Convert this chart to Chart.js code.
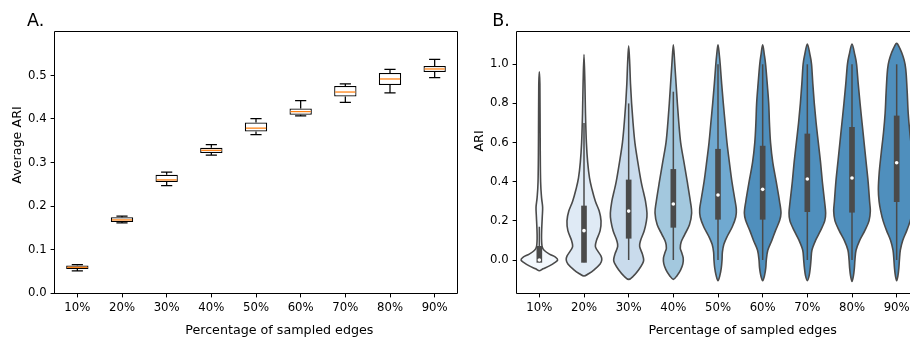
<!DOCTYPE html>
<html><head><meta charset="utf-8">
<script src="https://cdn.jsdelivr.net/npm/chart.js@4/dist/chart.umd.min.js"></script>
<style>
html,body{margin:0;padding:0;background:#fff;overflow:hidden;width:910px;height:341px;}
#wrap{position:relative;width:910px;height:341px;overflow:hidden;background:#fff;}
#a{position:absolute;left:0;top:0;width:460px;height:341px;}
#b{position:absolute;left:460px;top:0;width:470px;height:341px;}
</style></head><body>
<div id="wrap"><canvas id="a" width="460" height="341"></canvas><canvas id="b" width="470" height="341"></canvas></div>
<script>
// ---------- shared ----------
const categories = ['10%','20%','30%','40%','50%','60%','70%','80%','90%'];

// ---------- Panel A: Average ARI (box plots) ----------
const boxLowA  = [0.051, 0.161, 0.247, 0.317, 0.364, 0.407, 0.438, 0.460, 0.495];
const boxQ1A   = [0.055, 0.163, 0.255, 0.322, 0.371, 0.410, 0.452, 0.478, 0.508];
const boxMedA  = [0.059, 0.168, 0.260, 0.328, 0.379, 0.417, 0.462, 0.492, 0.515];
const boxQ3A   = [0.063, 0.174, 0.272, 0.334, 0.392, 0.424, 0.476, 0.506, 0.522];
const boxHighA = [0.065, 0.177, 0.278, 0.341, 0.401, 0.442, 0.481, 0.514, 0.537];
const yTicksA = [0, 0.1, 0.2, 0.3, 0.4, 0.5];
const yTickLabelsA = ['0.0','0.1','0.2','0.3','0.4','0.5'];

// ---------- Panel B: ARI (violin plots) ----------
const boxLowB  = [-0.012, -0.012, 0.0, 0.0, 0.0, 0.0, 0.0, 0.0, 0.0];
const boxQ1B   = [-0.012, -0.012, 0.111, 0.167, 0.208, 0.208, 0.247, 0.244, 0.298];
const boxMedB  = [0.0, 0.150, 0.250, 0.286, 0.332, 0.361, 0.414, 0.419, 0.497];
const boxQ3B   = [0.070, 0.276, 0.409, 0.463, 0.566, 0.582, 0.644, 0.678, 0.736];
const boxHighB = [0.170, 0.700, 0.800, 0.860, 1.0, 1.0, 1.0, 1.0, 1.0];
const yTicksB = [0, 0.2, 0.4, 0.6, 0.8, 1.0];
const yTickLabelsB = ['0.0','0.2','0.4','0.6','0.8','1.0'];

// violin outlines: ARI value and relative density (1 = widest violin)
const violin10 = [[-0.055,0],[-0.045,0.2],[-0.03,0.55],[-0.015,0.82],[0.0,1.0],[0.015,0.88],[0.03,0.55],[0.05,0.26],[0.07,0.15],[0.11,0.12],[0.16,0.13],[0.22,0.16],[0.27,0.18],[0.32,0.12],[0.4,0.07],[0.55,0.05],[0.75,0.04],[0.9,0.03],[0.962,0]];
const violin20 = [[-0.082,0],[-0.07,0.25],[-0.05,0.55],[-0.02,0.88],[0.0,0.97],[0.02,0.93],[0.05,0.72],[0.07,0.62],[0.1,0.68],[0.15,0.88],[0.2,0.93],[0.25,0.83],[0.3,0.62],[0.36,0.44],[0.42,0.3],[0.5,0.2],[0.6,0.13],[0.75,0.08],[0.9,0.05],[1.05,0]];
const violin30 = [[-0.099,0],[-0.08,0.28],[-0.05,0.55],[-0.02,0.75],[0.0,0.82],[0.03,0.75],[0.07,0.6],[0.1,0.65],[0.15,0.85],[0.2,0.97],[0.24,1.0],[0.3,0.92],[0.35,0.8],[0.4,0.68],[0.5,0.5],[0.6,0.34],[0.7,0.24],[0.8,0.16],[0.9,0.1],[1.0,0.06],[1.094,0]];
const violin40 = [[-0.099,0],[-0.08,0.2],[-0.05,0.4],[-0.02,0.52],[0.01,0.54],[0.04,0.45],[0.06,0.38],[0.09,0.42],[0.13,0.62],[0.18,0.88],[0.24,1.0],[0.3,0.93],[0.4,0.76],[0.5,0.58],[0.6,0.4],[0.7,0.3],[0.8,0.22],[0.9,0.15],[1.0,0.08],[1.099,0]];
const violin50 = [[-0.106,0],[-0.08,0.1],[-0.04,0.18],[0.0,0.22],[0.04,0.24],[0.08,0.32],[0.12,0.5],[0.17,0.78],[0.22,0.97],[0.26,1.0],[0.32,0.9],[0.4,0.76],[0.5,0.62],[0.6,0.49],[0.7,0.39],[0.8,0.29],[0.9,0.2],[1.0,0.12],[1.05,0.07],[1.099,0]];
const violin60 = [[-0.106,0],[-0.08,0.1],[-0.04,0.17],[0.0,0.2],[0.05,0.28],[0.1,0.5],[0.15,0.7],[0.2,0.92],[0.24,1.0],[0.3,0.92],[0.4,0.74],[0.5,0.55],[0.6,0.43],[0.7,0.37],[0.8,0.33],[0.9,0.25],[1.0,0.16],[1.05,0.09],[1.10,0]];
const violin70 = [[-0.106,0],[-0.08,0.1],[-0.04,0.16],[0.0,0.2],[0.05,0.25],[0.1,0.45],[0.15,0.72],[0.2,0.95],[0.24,1.0],[0.3,0.94],[0.4,0.82],[0.5,0.72],[0.6,0.6],[0.7,0.48],[0.8,0.38],[0.9,0.3],[1.0,0.23],[1.05,0.14],[1.104,0]];
const violin80 = [[-0.11,0],[-0.08,0.08],[-0.04,0.13],[0.0,0.16],[0.05,0.22],[0.1,0.42],[0.15,0.7],[0.2,0.93],[0.25,1.0],[0.3,0.96],[0.4,0.88],[0.5,0.77],[0.6,0.66],[0.7,0.55],[0.8,0.44],[0.9,0.34],[1.0,0.25],[1.05,0.15],[1.104,0]];
const violin90 = [[-0.106,0],[-0.08,0.07],[-0.04,0.12],[0.0,0.15],[0.05,0.2],[0.1,0.33],[0.15,0.55],[0.2,0.74],[0.25,0.87],[0.3,0.96],[0.36,1.0],[0.45,0.95],[0.55,0.84],[0.65,0.72],[0.75,0.63],[0.85,0.58],[0.95,0.52],[1.0,0.46],[1.04,0.35],[1.08,0.18],[1.107,0]];
const violinProfiles = [violin10, violin20, violin30, violin40, violin50, violin60, violin70, violin80, violin90];
const violinColors = ['#f3f8fd','#dfeaf5','#c9dbec','#a3c8de','#70a9d0','#4f8fbd','#4f8fbd','#4f8fbd','#4f8fbd'];

// ---------- helpers ----------
const FONT = '"DejaVu Sans", "Liberation Sans", sans-serif';
const TICK_SIZE = 11.7;
const LABEL_SIZE = 12.7;
function fixedTicks(vals){ return function(scale){ scale.ticks = vals.map(v => ({value: v})); }; }

function smoothClosed(ctx, pts){
  const n = pts.length;
  ctx.moveTo(pts[0][0], pts[0][1]);
  for (let i = 0; i < n; i++){
    const p0 = pts[(i-1+n)%n], p1 = pts[i], p2 = pts[(i+1)%n], p3 = pts[(i+2)%n];
    const c1x = p1[0] + (p2[0]-p0[0])/6, c1y = p1[1] + (p2[1]-p0[1])/6;
    const c2x = p2[0] - (p3[0]-p1[0])/6, c2y = p2[1] - (p3[1]-p1[1])/6;
    ctx.bezierCurveTo(c1x, c1y, c2x, c2y, p2[0], p2[1]);
  }
  ctx.closePath();
}

function frame(ctx, a, sides){
  ctx.save();
  ctx.strokeStyle = '#000';
  ctx.lineWidth = 1;
  const l = Math.round(a.left)-0.5, r = Math.round(a.right)+0.5, t = Math.round(a.top)-0.5, b = Math.round(a.bottom)+0.5;
  ctx.beginPath();
  if (sides.includes('l')) { ctx.moveTo(l, t); ctx.lineTo(l, b); }
  if (sides.includes('b')) { ctx.moveTo(l, b); ctx.lineTo(r, b); }
  if (sides.includes('t')) { ctx.moveTo(l, t); ctx.lineTo(r, t); }
  if (sides.includes('r')) { ctx.moveTo(r, t); ctx.lineTo(r, b); }
  ctx.stroke();
  ctx.restore();
}

function texts(ctx, panel, panelX, ylabel, yCenter, yBase, xCenter){
  ctx.save();
  ctx.fillStyle = '#000';
  ctx.font = '17.5px ' + FONT;
  ctx.textAlign = 'left'; ctx.textBaseline = 'alphabetic';
  ctx.fillText(panel, panelX, 26);
  ctx.font = LABEL_SIZE + 'px ' + FONT;
  ctx.textAlign = 'center';
  ctx.fillText('Percentage of sampled edges', xCenter, 334);
  ctx.translate(yBase, yCenter);
  ctx.rotate(-Math.PI/2);
  ctx.fillText(ylabel, 0, 0);
  ctx.restore();
}

const scaleCommon = (extra) => Object.assign({
  ticks: {color:'#000', font:{family:FONT, size:TICK_SIZE}, padding:4},
  grid: {display:true, drawOnChartArea:false, drawTicks:true, tickLength:4.4, tickColor:'#000', tickWidth:1, offset:false},
  border: {display:false}
}, extra);

// ---------- Chart A ----------
const boxAPlugin = {
  id: 'boxA',
  afterDatasetsDraw(chart){
    const {ctx, scales:{x, y}} = chart;
    const slot = x.getPixelForValue(1) - x.getPixelForValue(0);
    ctx.save();
    ctx.lineWidth = 1.25;
    categories.forEach((c, i) => {
      const cx = x.getPixelForValue(i);
      const cap = slot * 0.125, half = slot * 0.25;
      const yl = y.getPixelForValue(boxLowA[i]), yh = y.getPixelForValue(boxHighA[i]);
      const y1 = y.getPixelForValue(boxQ1A[i]), y3 = y.getPixelForValue(boxQ3A[i]);
      ctx.strokeStyle = '#000';
      ctx.beginPath();
      ctx.moveTo(cx, y3); ctx.lineTo(cx, yh);
      ctx.moveTo(cx, y1); ctx.lineTo(cx, yl);
      ctx.moveTo(cx-cap, yh); ctx.lineTo(cx+cap, yh);
      ctx.moveTo(cx-cap, yl); ctx.lineTo(cx+cap, yl);
      ctx.stroke();
      const ym = y.getPixelForValue(boxMedA[i]);
      ctx.strokeStyle = '#ff7f0e';
      ctx.beginPath(); ctx.moveTo(cx-half+1, ym); ctx.lineTo(cx+half-1, ym); ctx.stroke();
    });
    ctx.restore();
    frame(ctx, chart.chartArea, 'lbtr');
  },
  afterDraw(chart){
    texts(chart.ctx, 'A.', 27, 'Average ARI', 145, 20.7, 279.3);
  }
};

new Chart(document.getElementById('a'), {
  type: 'bar',
  data: {
    labels: categories,
    datasets: [{
      data: categories.map((c, i) => [boxQ1A[i], boxQ3A[i]]),
      backgroundColor: '#ffffff', borderColor: '#000000', borderWidth: 1.25, borderSkipped: false,
      barPercentage: 0.5, categoryPercentage: 1.0
    }]
  },
  options: {
    responsive: false, animation: false, events: [], devicePixelRatio: 1,
    layout: {padding: {left:0, top:32, right:3, bottom:0}},
    plugins: {legend:{display:false}, tooltip:{enabled:false}, title:{display:false}},
    scales: {
      x: scaleCommon({type:'category', offset:true, afterFit(s){ s.height = 48; }}),
      y: scaleCommon({type:'linear', min:0, max:0.6, bounds:'data',
          afterBuildTicks: fixedTicks(yTicksA),
          ticks:{color:'#000', font:{family:FONT, size:TICK_SIZE}, padding:4, callback:(v, i) => yTickLabelsA[i]},
          afterFit(s){ s.width = 55; }})
    }
  },
  plugins: [boxAPlugin]
});

// ---------- Chart B ----------
const violinPlugin = {
  id: 'violins',
  beforeDatasetsDraw(chart){
    const {ctx, scales:{x, y}} = chart;
    const slot = x.getPixelForValue(1) - x.getPixelForValue(0);
    const maxHalf = slot * 0.41;
    ctx.save();
    violinProfiles.forEach((prof, i) => {
      const cx = x.getPixelForValue(i);
      const right = prof.map(([v, d]) => [cx + d*maxHalf, y.getPixelForValue(v)]);
      const left = prof.slice(1, -1).reverse().map(([v, d]) => [cx - d*maxHalf, y.getPixelForValue(v)]);
      const pts = right.concat(left);
      ctx.beginPath();
      smoothClosed(ctx, pts);
      ctx.fillStyle = violinColors[i];
      ctx.fill();
      ctx.strokeStyle = '#4a4a4a';
      ctx.lineWidth = 1.6;
      ctx.lineJoin = 'round';
      ctx.stroke();
      ctx.beginPath();
      ctx.lineWidth = 1.5;
      ctx.moveTo(cx, y.getPixelForValue(boxLowB[i]));
      ctx.lineTo(cx, y.getPixelForValue(boxHighB[i]));
      ctx.stroke();
    });
    ctx.restore();
  },
  afterDraw(chart){
    frame(chart.ctx, chart.chartArea, 'lbt');
    texts(chart.ctx, 'B.', 32.3, 'ARI', 141, 22.7, 282.7);
  }
};

new Chart(document.getElementById('b'), {
  type: 'bar',
  data: {
    labels: categories,
    datasets: [
      {
        type: 'line', order: 0,
        data: boxMedB, showLine: false,
        pointRadius: 1.8, pointBackgroundColor: '#ffffff', pointBorderWidth: 0, pointBorderColor: '#ffffff'
      },
      {
        type: 'bar', order: 1,
        data: categories.map((c, i) => [boxQ1B[i], boxQ3B[i]]),
        backgroundColor: '#4a4a4a', borderWidth: 0, barThickness: 5
      }
    ]
  },
  options: {
    responsive: false, animation: false, events: [], devicePixelRatio: 1,
    layout: {padding: {left:0, top:32, right:11, bottom:0}},
    plugins: {legend:{display:false}, tooltip:{enabled:false}, title:{display:false}},
    scales: {
      x: scaleCommon({type:'category', offset:true, afterFit(s){ s.height = 48; }}),
      y: scaleCommon({type:'linear', min:-0.1686, max:1.165, bounds:'data',
          afterBuildTicks: fixedTicks(yTicksB),
          ticks:{color:'#000', font:{family:FONT, size:TICK_SIZE}, padding:4, callback:(v, i) => yTickLabelsB[i]},
          afterFit(s){ s.width = 57; }})
    }
  },
  plugins: [violinPlugin]
});
</script>
</body></html>
